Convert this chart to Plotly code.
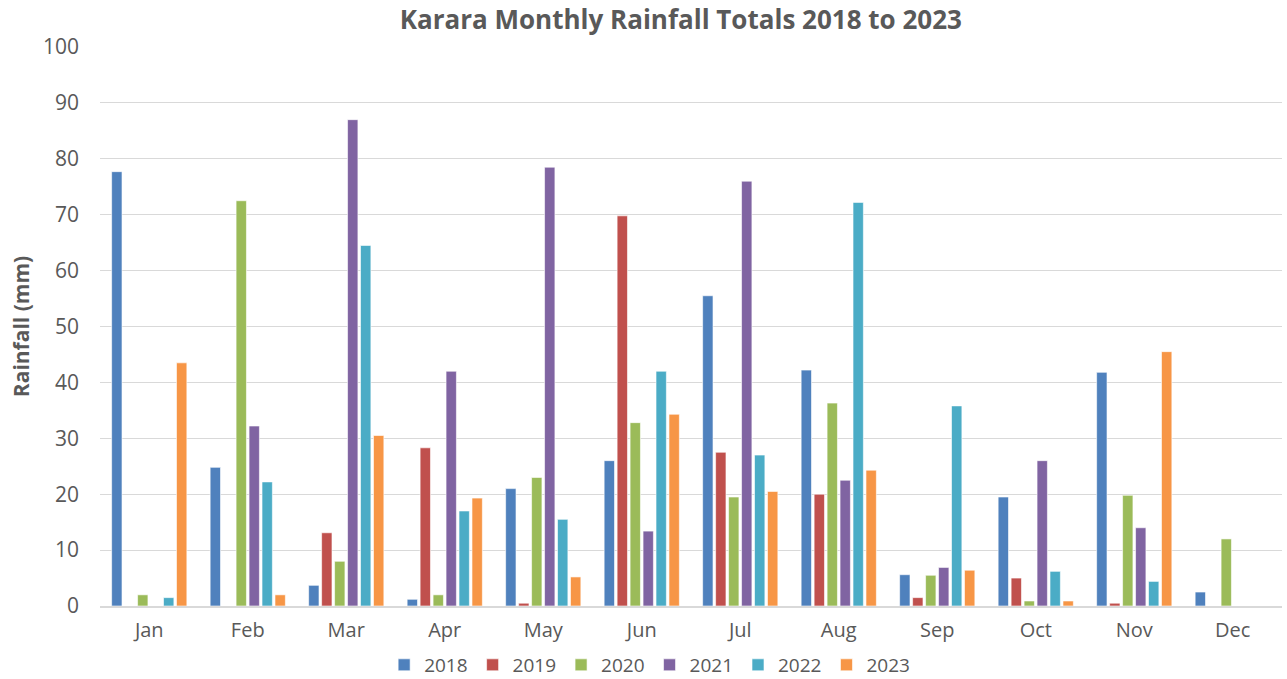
import plotly.graph_objects as go

months = ["Jan", "Feb", "Mar", "Apr", "May", "Jun", "Jul", "Aug", "Sep", "Oct", "Nov", "Dec"]
years = ["2018", "2019", "2020", "2021", "2022", "2023"]
r2018 = [77.7, 24.8, 3.7, 1.2, 21.0, 26.0, 55.5, 42.2, 5.6, 19.5, 41.8, 2.5]
r2019 = [0, 0, 13.1, 28.3, 0.5, 69.8, 27.5, 20.0, 1.5, 5.0, 0.5, None]
r2020 = [2.0, 72.5, 8.0, 2.0, 23.0, 32.8, 19.5, 36.3, 5.5, 0.9, 19.8, 12.0]
r2021 = [0, 32.2, 87.0, 42.0, 78.5, 13.4, 76.0, 22.5, 6.9, 26.0, 14.0, None]
r2022 = [1.5, 22.2, 64.5, 17.0, 15.5, 42.0, 27.0, 72.2, 35.8, 6.2, 4.4, None]
r2023 = [43.5, 2.0, 30.5, 19.3, 5.2, 34.3, 20.5, 24.3, 6.4, 0.9, 45.5, None]
series = [r2018, r2019, r2020, r2021, r2022, r2023]
colors = ["#4F81BD", "#C0504D", "#9BBB59", "#8064A2", "#4BACC6", "#F79646"]

FONT = "Open Sans"
fig = go.Figure()
for y, vals, c in zip(years, series, colors):
    fig.add_trace(go.Bar(name=y, x=months, y=vals, marker_color=c,
                         marker_line=dict(color="rgba(255,255,255,0.6)", width=1)))

fig.update_layout(
    width=1287, height=679,
    barmode="group", bargap=0.21, bargroupgap=0.2,
    paper_bgcolor="white", plot_bgcolor="white",
    margin=dict(l=100, r=5, t=47, b=73, autoexpand=False),
    font=dict(family=FONT, color="#595959", size=20),
    title=dict(text="<b>Karara Monthly Rainfall Totals 2018 to 2023</b>",
               xref="container", x=0.529, xanchor="center",
               yref="container", y=0.9705, yanchor="middle",
               font=dict(size=26, color="#595959", family=FONT)),
    legend=dict(orientation="h", x=0.465, xanchor="center", y=-0.1055, yanchor="middle",
                font=dict(size=19, color="#595959"), itemwidth=30, tracegroupgap=0),
    xaxis=dict(showline=True, linecolor="#D9D9D9", linewidth=2, ticks="", automargin=False,
               ticklabelstandoff=5, tickfont=dict(size=20, color="#595959")),
    yaxis=dict(range=[0, 100], dtick=10, showgrid=True, gridcolor="#D9D9D9", gridwidth=1,
               zeroline=False, ticks="", ticklabelstandoff=20, automargin=False,
               title=dict(text="<b>Rainfall (mm)</b>", font=dict(size=21, color="#595959"), standoff=7),
               tickfont=dict(size=21, color="#595959")),
)
fig.write_html("out.html", config={"displayModeBar": False},
               post_script="document.body.style.margin='0';")
